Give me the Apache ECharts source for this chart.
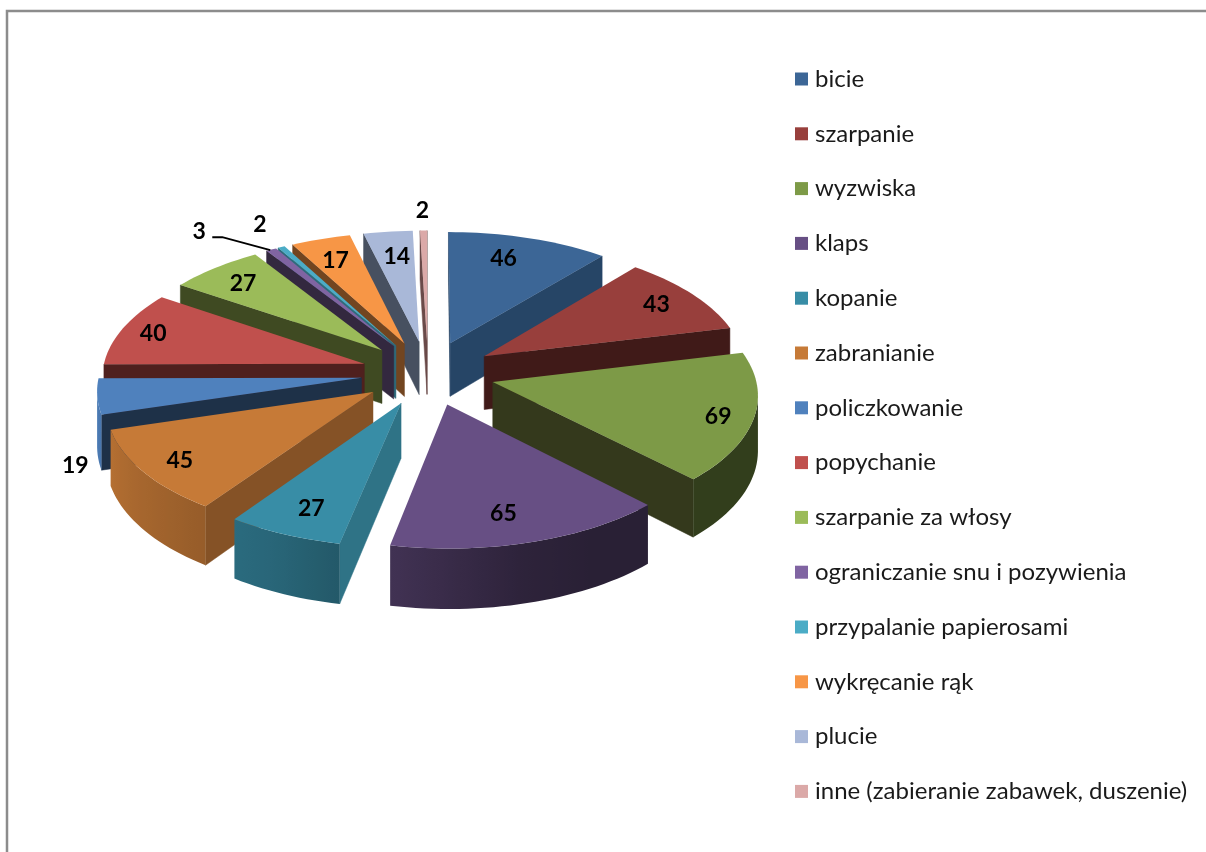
<!DOCTYPE html>
<html>
<head>
<meta charset="utf-8">
<style>
    html, body { margin: 0; padding: 0; background: #fff; overflow: hidden; }
    #chart { width: 1206px; height: 852px; }
</style>
<script src="https://cdn.jsdelivr.net/npm/echarts@6/dist/echarts.min.js"></script>
</head>
<body>
<div id="chart"></div>
<script>
// chart data
const categories = ['bicie', 'szarpanie', 'wyzwiska', 'klaps', 'kopanie', 'zabranianie', 'policzkowanie',
    'popychanie', 'szarpanie za włosy', 'ograniczanie snu i pozywienia', 'przypalanie papierosami',
    'wykręcanie rąk', 'plucie', 'inne (zabieranie zabawek, duszenie)'];
const values = [46, 43, 69, 65, 27, 45, 19, 40, 27, 3, 2, 17, 14, 2];

// colours of the top faces and of the flat cut faces
const topColors = ['#3c6696', '#983f3c', '#7d9a47', '#674f84', '#388da6', '#c67a37', '#4f81bd',
    '#c0504d', '#9bbb59', '#8064a2', '#4bacc6', '#f79646', '#a9b8d8', '#dba9a8'];
const cutColors = ['#264566', '#401a18', '#34391c', '#2c2138', '#2f7386', '#855226', '#1e3148',
    '#4f201e', '#3f4a22', '#33283f', '#2e6b7c', '#724520', '#475060', '#6a4a49'];

// label nudges from the default spot on each slice, in pixels
const labelShifts = [[-3, -9], [25, -7], [44, 9], [-1, 15], [-10, 16], [-35, 14], [-102, 75],
    [-41, -5], [-20, -8], [-107, -46], [-54, -51], [-9, -8], [0, -6], [-2, -51]];

// 3d projection settings
const center = [428, 373];
const radius = 262;
const explode = 67;
const squash = 0.48;
const perspective = 0.00033;
const depth = 54;

const total = values.reduce((a, b) => a + b, 0);
const starts = [];
values.reduce((sum, v, i) => { starts[i] = sum / total * 2 * Math.PI; return sum + v; }, 0);

function project(x, y, down) {
    let s = 1 / (1 - perspective * y);
    return [center[0] + x * s, center[1] + (squash * y + (down ? depth : 0)) * s];
}

// shade of the round wall, depends on where it faces
function wallShade(angle) {
    let deg = angle * 180 / Math.PI;
    const stops = [[0, 0.4], [150, 0.4], [165, 0.44], [190, 0.62], [205, 0.72], [220, 0.78], [250, 0.9], [270, 1], [360, 1]];
    for (let i = 1; i < stops.length; i++) {
        if (deg <= stops[i][0]) {
            let t = (deg - stops[i - 1][0]) / (stops[i][0] - stops[i - 1][0]);
            return stops[i - 1][1] + t * (stops[i][1] - stops[i - 1][1]);
        }
    }
    return 1;
}

function shadeColor(hex, k) {
    let n = parseInt(hex.slice(1), 16);
    let r = Math.round((n >> 16) * k), g = Math.round(((n >> 8) & 255) * k), b = Math.round((n & 255) * k);
    return 'rgb(' + r + ',' + g + ',' + b + ')';
}

function cutWall(a, b, fill) {
    return {
        type: 'polygon',
        shape: {points: [project(a[0], a[1]), project(b[0], b[1]), project(b[0], b[1], true), project(a[0], a[1], true)]},
        style: {fill: fill, stroke: fill, lineWidth: 0.5},
    };
}

// the visible part of the rim as one polygon with a left to right gradient
function roundWall(points, angles, base) {
    let tops = points.map(p => project(p[0], p[1]));
    let bottoms = points.map(p => project(p[0], p[1], true));
    let right = tops[0][0], left = tops[tops.length - 1][0];
    let stops = tops.map((p, k) => ({
        offset: Math.min(1, Math.max(0, (p[0] - left) / (right - left))),
        color: shadeColor(base, wallShade(angles[k])),
    })).reverse();
    return {
        type: 'polygon',
        shape: {points: tops.concat(bottoms.reverse())},
        style: {fill: new echarts.graphic.LinearGradient(left, 0, right, 0, stops, true)},
    };
}

function renderSlice(index, api) {
    let sweep = api.value(0) / total * 2 * Math.PI;
    let start = starts[index];
    let mid = start + sweep / 2;
    let ox = explode * Math.sin(mid), oy = -explode * Math.cos(mid);

    // outline of the slice on the floor plane
    let steps = Math.max(2, Math.ceil(sweep / 0.03));
    let rim = [], angles = [];
    for (let k = 0; k <= steps; k++) {
        let a = start + sweep * k / steps;
        angles.push(a);
        rim.push([ox + radius * Math.sin(a), oy - radius * Math.cos(a)]);
    }
    let apex = [ox, oy];
    let children = [];

    // walls running right to left on screen face the viewer
    let faces = (a, b) => project(b[0], b[1])[0] < project(a[0], a[1])[0];
    if (faces(apex, rim[0])) children.push(cutWall(apex, rim[0], cutColors[index]));
    if (faces(rim[steps], apex)) children.push(cutWall(rim[steps], apex, cutColors[index]));
    let seen = [], seenAngles = [];
    for (let k = 0; k <= steps; k++) {
        let before = k > 0 && faces(rim[k - 1], rim[k]);
        let after = k < steps && faces(rim[k], rim[k + 1]);
        if (before || after) {
            seen.push(rim[k]);
            seenAngles.push(angles[k]);
        }
    }
    if (seen.length > 1) children.push(roundWall(seen, seenAngles, topColors[index]));

    // top face
    let outline = [project(apex[0], apex[1])].concat(rim.map(p => project(p[0], p[1])));
    children.push({type: 'polygon', shape: {points: outline}, style: {fill: topColors[index]}});

    // value label
    let spot = project(ox + 0.7 * radius * Math.sin(mid), oy - 0.7 * radius * Math.cos(mid));
    let lx = spot[0] + labelShifts[index][0], ly = spot[1] + labelShifts[index][1];
    children.push({
        type: 'text',
        style: {text: String(api.value(0)), x: lx, y: ly, fill: '#000', align: 'center', verticalAlign: 'middle',
            font: 'bold 23px Lato'},
    });

    // the label of the thin slice has a leader line
    if (index === 9) {
        children.push({
            type: 'polyline',
            shape: {points: [[lx + 13, ly + 6], [lx + 23, ly + 6], [lx + 71, ly + 19]]},
            style: {stroke: '#000', lineWidth: 2, fill: null},
        });
    }
    return {type: 'group', children: children};
}

// draw back slices first
const depthOrder = values.map((v, i) => i)
    .sort((a, b) => -Math.cos(starts[a] + values[a] / total * Math.PI) + Math.cos(starts[b] + values[b] / total * Math.PI));

let chart = echarts.init(document.getElementById('chart'), null, {renderer: 'canvas'});

const option = {
    animation: false,
    backgroundColor: '#fff',
    graphic: [{
        type: 'rect',
        shape: {x: 7, y: 11, width: 1400, height: 1000},
        style: {fill: null, stroke: '#8c8c8c', lineWidth: 2.5},
        silent: true,
    }],
    legend: {
        orient: 'vertical',
        left: 790,
        top: 62,
        icon: 'rect',
        itemWidth: 13,
        itemHeight: 13,
        itemGap: 30.8,
        selectedMode: false,
        data: categories,
        textStyle: {fontFamily: 'Lato', fontSize: 24, color: '#1a1a1a', padding: [0, 0, 0, 2]},
    },
    series: categories.map((name, i) => ({
        type: 'custom',
        name: name,
        coordinateSystem: 'none',
        silent: true,
        z: 2 + depthOrder.indexOf(i),
        itemStyle: {color: topColors[i]},
        data: [[values[i]]],
        renderItem: (params, api) => renderSlice(i, api),
    })),
};

chart.setOption(option);
</script>
</body>
</html>
